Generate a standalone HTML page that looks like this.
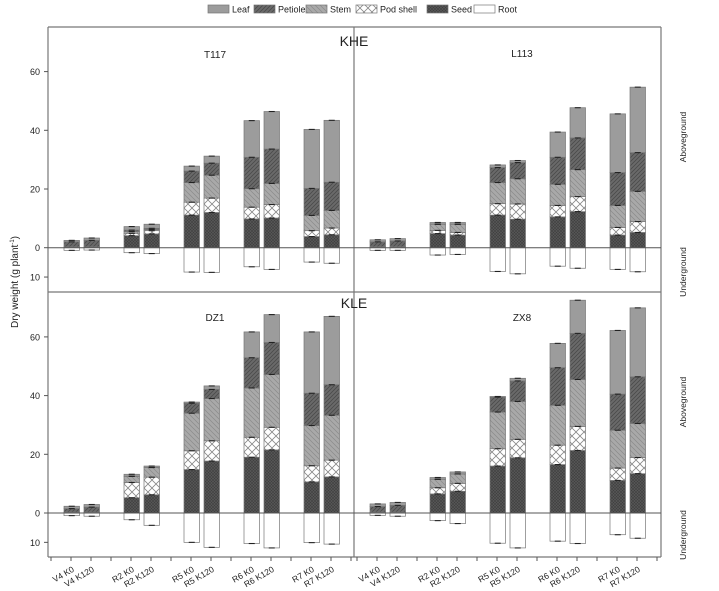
<!DOCTYPE html>
<html><head><meta charset="utf-8"><style>
html,body{margin:0;padding:0;background:#fff}
svg{display:block;font-family:"Liberation Sans",Arial,sans-serif}
</style></head><body>
<svg id="s" width="719" height="591" viewBox="0 0 719 591" xmlns="http://www.w3.org/2000/svg">
<defs>
<pattern id="pSeed" width="3" height="3" patternUnits="userSpaceOnUse"><rect width="3" height="3" fill="#585858"/><path d="M0 0L3 3M3 0L0 3" stroke="#3e3e3e" stroke-width="0.6"/></pattern>
<pattern id="pPet" width="4" height="4" patternUnits="userSpaceOnUse"><rect width="4" height="4" fill="#6a6a6a"/><path d="M0 4L4 0M-1 1L1 -1M3 5L5 3" stroke="#4a4a4a" stroke-width="0.8"/></pattern>
<pattern id="pStem" width="5" height="5" patternUnits="userSpaceOnUse"><rect width="5" height="5" fill="#a9a9a9"/><path d="M0 0L5 5M-1 4L1 6M4 -1L6 1" stroke="#8a8a8a" stroke-width="0.7"/></pattern>
<pattern id="pPod" width="8" height="8" patternUnits="userSpaceOnUse"><rect width="8" height="8" fill="#fff"/><path d="M0 0L8 8M8 0L0 8" stroke="#888" stroke-width="0.8"/></pattern>
</defs>
<g id="g"></g>
</svg>
<script>
var g=document.getElementById('g');var h='';
function R(x,y,w,hh,f,st){h+='<rect x="'+x+'" y="'+y+'" width="'+w+'" height="'+hh+'" fill="'+f+'" stroke="'+(st||'#777')+'" stroke-width="0.7"/>';}
function L(x1,y1,x2,y2,c,w){h+='<line x1="'+x1+'" y1="'+y1+'" x2="'+x2+'" y2="'+y2+'" stroke="'+(c||'#666')+'" stroke-width="'+(w||1)+'"/>';}
function T(x,y,t,s,a,extra){h+='<text x="'+x+'" y="'+y+'" font-size="'+s+'" text-anchor="'+(a||'start')+'" fill="#222" '+(extra||'')+'>'+t+'</text>';}
var lg=[[208,'Leaf','#9c9c9c'],[254,'Petiole','url(#pPet)'],[306,'Stem','url(#pStem)'],[356,'Pod shell','url(#pPod)'],[427,'Seed','url(#pSeed)'],[474,'Root','#fff']];
lg.forEach(function(l){R(l[0],5,21,8,l[2]);T(l[0]+24,12.5,l[1],9);});
var D=[
[[0,0,0.3,2.0,2.5,0.9],[0,0,0.3,2.5,3.3,0.8],[4.1,4.9,5.5,6.0,7.2,1.7],[4.7,5.8,6.2,6.6,8.0,2.0],[11.1,15.5,22.2,26.1,27.8,8.3],[12.0,16.9,24.7,28.8,31.2,8.4],[9.8,13.8,20.1,30.8,43.3,6.5],[10.1,14.7,21.9,33.6,46.4,7.4],[3.8,5.8,11.0,20.2,40.3,4.9],[4.4,6.7,12.7,22.3,43.4,5.3]],
[[0,0,0.3,2.0,2.7,0.9],[0,0,0.3,2.3,3.1,0.9],[4.8,5.9,8.0,8.0,8.6,2.5],[4.3,5.2,8.0,8.0,8.6,2.3],[11.1,15.0,22.2,27.3,28.2,8.1],[9.7,14.9,23.5,29.0,29.7,8.9],[10.5,14.4,21.6,30.8,39.4,6.3],[12.3,17.4,26.6,37.4,47.7,7.0],[4.3,6.9,14.4,25.6,45.6,7.4],[5.2,8.9,19.2,32.4,54.7,8.2]],
[[0,0,0.3,1.5,2.3,0.9],[0,0,0.3,2.0,2.9,1.1],[5.2,10.4,12.5,12.5,13.2,2.3],[6.2,12.2,15.5,15.5,16.0,4.2],[14.8,21.2,34.0,37.4,37.8,10.0],[17.7,24.6,39.0,42.1,43.3,11.7],[19.0,25.8,42.6,52.9,61.7,10.4],[21.5,29.2,47.2,58.1,67.6,11.9],[10.6,16.1,29.8,40.8,61.7,10.1],[12.3,18.0,33.3,43.7,67.0,10.6]],
[[0,0,0.3,2.2,3.1,0.8],[0,0,0.3,2.6,3.6,1.1],[6.5,8.6,11.5,11.5,12.1,2.6],[7.4,10.1,13.3,13.3,14.0,3.6],[16.0,21.9,34.4,39.5,39.7,10.3],[18.8,25.1,38.0,45.0,45.9,11.9],[16.5,23.1,36.7,49.5,57.8,9.6],[21.3,29.5,45.5,61.2,72.5,10.4],[11.1,15.3,28.2,40.5,62.2,7.4],[13.4,18.9,30.5,46.4,69.9,8.6]]];
var fills=['url(#pSeed)','url(#pPod)','url(#pStem)','url(#pPet)','#9c9c9c'];
var panels=[[48,247.7],[354,247.7],[48,513],[354,513]];
var sc=2.935;
panels.forEach(function(p,pi){
  var x0=p[0],z=p[1];
  D[pi].forEach(function(b,i){
    var bx=x0+16+Math.floor(i/2)*60+(i%2)*20, w=15.5;
    var prev=0;
    for(var k=0;k<5;k++){var v=b[k];if(v>prev){R(bx,z-v*sc,w,(v-prev)*sc,fills[k]);}prev=Math.max(prev,v);}
    var r=b[5];R(bx,z,w,r*sc,'#fff');
    var cx=bx+w/2;
    for(var k=0;k<5;k++){if(b[k]>0.5){L(cx-3,z-b[k]*sc,cx+3,z-b[k]*sc,'#222',1.1);}}
    L(cx-3,z+r*sc,cx+3,z+r*sc,'#222',1.1);
  });
});
L(48,27,661,27,'#777',1.2);L(48,27,48,557,'#777',1.2);L(661,27,661,557,'#777',1.2);
L(48,292,661,292,'#777',1.2);L(48,557,661,557,'#777',1.2);L(354,27,354,557,'#777',1.2);
L(48,247.7,661,247.7,'#555',1);L(48,513,661,513,'#555',1);
[[247.7],[513]].forEach(function(q){var z=q[0];
 [60,40,20,0].forEach(function(v){var y=z-v*sc;L(44,y,48,y,'#555');T(40,y+3.5,v,9,'end');});
 var y=z+10*sc;L(44,y,48,y,'#555');T(40,y+3.5,'10',9,'end');
});
for(var x=51;x<=351;x+=20){L(x,557,x,561,'#555');}
for(var x=357;x<=657;x+=20){L(x,557,x,561,'#555');}
var grp=['V4','R2','R5','R6','R7'];
[48,354].forEach(function(x0){
 for(var i=0;i<10;i++){var cx=x0+16+Math.floor(i/2)*60+(i%2)*20+7.75;var t=grp[Math.floor(i/2)]+(i%2?' K120':' K0');var y=571;var x=cx+3;
 T(x,y,t,8.5,'end','transform="rotate(-30 '+x+' '+y+')"');}
});
T(354,46,'KHE',14,'middle');T(354,308,'KLE',14,'middle');
T(215,58,'T117',10,'middle');T(522,57,'L113',10,'middle');T(215,321,'DZ1',10,'middle');T(522,321,'ZX8',10,'middle');
T(18,282,'Dry weight (g plant<tspan font-size="6" dy="-4">-1</tspan><tspan dy="4">)</tspan>',10,'middle','transform="rotate(-90 18 282)"');
[[137,'Aboveground'],[272,'Underground'],[402,'Aboveground'],[535,'Underground']].forEach(function(a){T(686,a[0],a[1],8.5,'middle','transform="rotate(-90 686 '+a[0]+')"');});
g.innerHTML=h;
</script>
</body></html>
